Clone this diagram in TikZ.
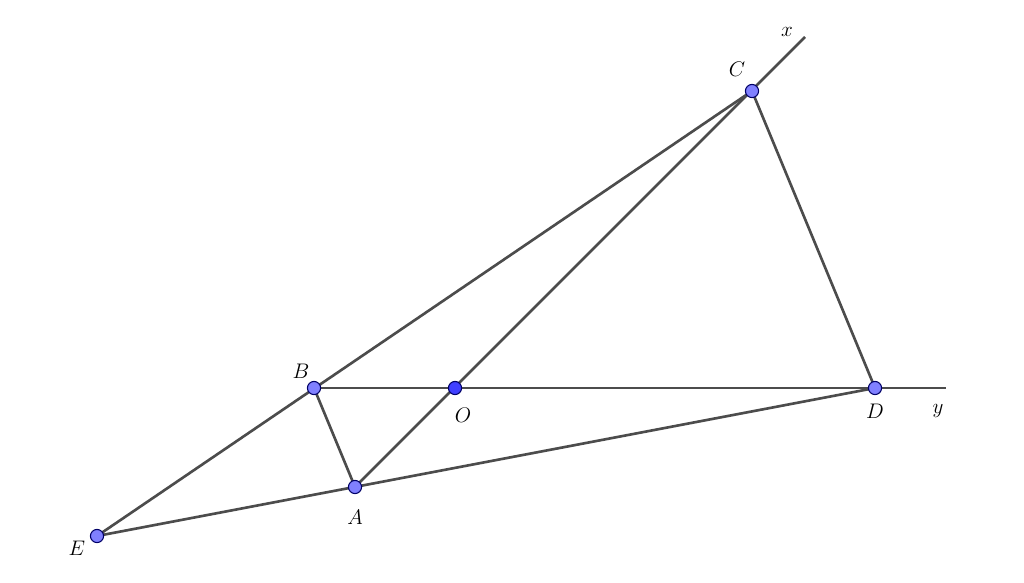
\documentclass[tikz,border=0pt]{standalone}
\begin{document}
\begin{tikzpicture}[x=0.02cm,y=-0.02cm,
  seg/.style={draw=black!70,line width=1.5pt},
  pt/.style={circle,fill=blue!50!white,draw=blue!40!black,line width=0.6pt,inner sep=0pt,minimum size=7.5pt},
  ptO/.style={circle,fill=blue!75!white,draw=blue!40!black,line width=0.6pt,inner sep=0pt,minimum size=7.5pt},
  lbl/.style={font=\large}]
\useasboundingbox (0,0) rectangle (1024,582);
\coordinate (C) at (752,91);
\coordinate (B) at (314,388);
\coordinate (O) at (455,388);
\coordinate (D) at (875,388);
\coordinate (A) at (355,487);
\coordinate (E) at (97,536);
\coordinate (X) at (805,37);
\coordinate (Y) at (946,388);
\draw[seg] (E) -- (C);
\draw[seg] (E) -- (D);
\draw[seg] (B) -- (Y);
\draw[seg] (A) -- (X);
\draw[seg] (B) -- (A);
\draw[seg] (C) -- (D);
\node[pt] (nC) at (C) {};
\node[pt] (nB) at (B) {};
\node[ptO] (nO) at (O) {};
\node[pt] (nD) at (D) {};
\node[pt] (nA) at (A) {};
\node[pt] (nE) at (E) {};
\node[lbl] (lC) at (737,69) {$C$};
\node[lbl] (lB) at (301,371) {$B$};
\node[lbl] (lO) at (463,415) {$O$};
\node[lbl] (lD) at (875,411) {$D$};
\node[lbl] (lA) at (355,517) {$A$};
\node[lbl] (lE) at (77,548) {$E$};
\node[lbl] (lx) at (787,32) {$x$};
\node[lbl] (ly) at (938,411) {$y$};
\end{tikzpicture}
\end{document}
